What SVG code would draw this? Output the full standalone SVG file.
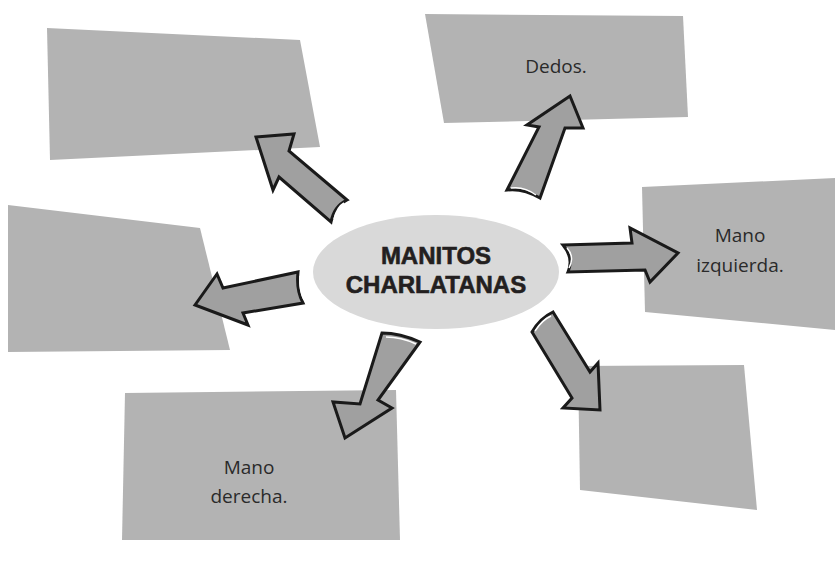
<svg xmlns="http://www.w3.org/2000/svg" width="835" height="563" viewBox="0 0 835 563">
<style>
.box{fill:#b3b3b3}
.arrow{fill:#a0a0a0;stroke:#1a1a1a;stroke-width:3;stroke-linejoin:miter;stroke-miterlimit:6}
.hl{fill:none;stroke:#ffffff;stroke-width:1.5}
.lbl{font-family:"Open Sans","Liberation Sans",sans-serif;font-size:19px;fill:#2a2a2a;text-anchor:middle}
.title{font-family:"Liberation Sans",Arial,sans-serif;font-size:24px;font-weight:bold;fill:#231f20;stroke:#231f20;stroke-width:0.6;text-anchor:middle}
</style>
<rect width="835" height="563" fill="#ffffff"/>
<g id="box-topleft"><polygon class="box" points="47,28 300,40 320,147 50,160"/></g>
<g id="box-dedos"><polygon class="box" points="425,14 683,16 688,117 444,123"/><text class="lbl" x="556" y="73">Dedos.</text></g>
<g id="box-izquierda"><polygon class="box" points="642,187 835,178 835,330 645,312"/><text class="lbl" x="740" y="242">Mano</text><text class="lbl" x="740" y="272">izquierda.</text></g>
<g id="box-left"><polygon class="box" points="8,205 200,228 230,350 8,352"/></g>
<g id="box-derecha"><polygon class="box" points="125,393 396,390 400,540 122,540"/><text class="lbl" x="249" y="474">Mano</text><text class="lbl" x="249" y="503">derecha.</text></g>
<g id="box-bottomright"><polygon class="box" points="578,366 744,365 757,510 580,490"/></g>
<g id="center"><ellipse cx="436" cy="272" rx="123" ry="57" fill="#d9d9d9"/></g>
<g id="connectors">
<path class="arrow" d="M256,137 L294,134 L289,151 L347,200 Q334,206 331,222 L279,177 L273,190 Z"/>
<path class="arrow" d="M570,96 L583,128 L565,128 L540,198 Q523,188 507,190 L539,127 L527,125 Z"/>
<path class="arrow" d="M563,245 L632,243 L630,228 L678,253 L650,282 L645,270 L568,272 Q574,258 563,245 Z"/>
<path class="arrow" d="M195,305 L217,274 L223,288 L298,272 Q296,290 303,303 L243,313 L248,325 Z"/>
<path class="arrow" d="M382,333 Q400,333 420,342 L378,400 L392,408 L345,438 L333,402 L360,404 Z"/>
<path class="arrow" d="M553,312 L590,372 L598,363 L600,410 L563,408 L572,398 L532,332 Q540,318 553,312 Z"/>
<path class="hl" d="M334,219 Q337,207 344,203"/>
<path class="hl" d="M511,188 Q524,186 536,195"/>
<path class="hl" d="M569,268 Q575,257 567,248"/>
<path class="hl" d="M300,276 Q299,290 304,300"/>
<path class="hl" d="M386,337 Q401,337 416,344"/>
<path class="hl" d="M535,331 Q542,320 551,316"/>
</g>
<g id="title"><text class="title" x="436" y="264">MANITOS</text><text class="title" x="436" y="293">CHARLATANAS</text></g>
</svg>
